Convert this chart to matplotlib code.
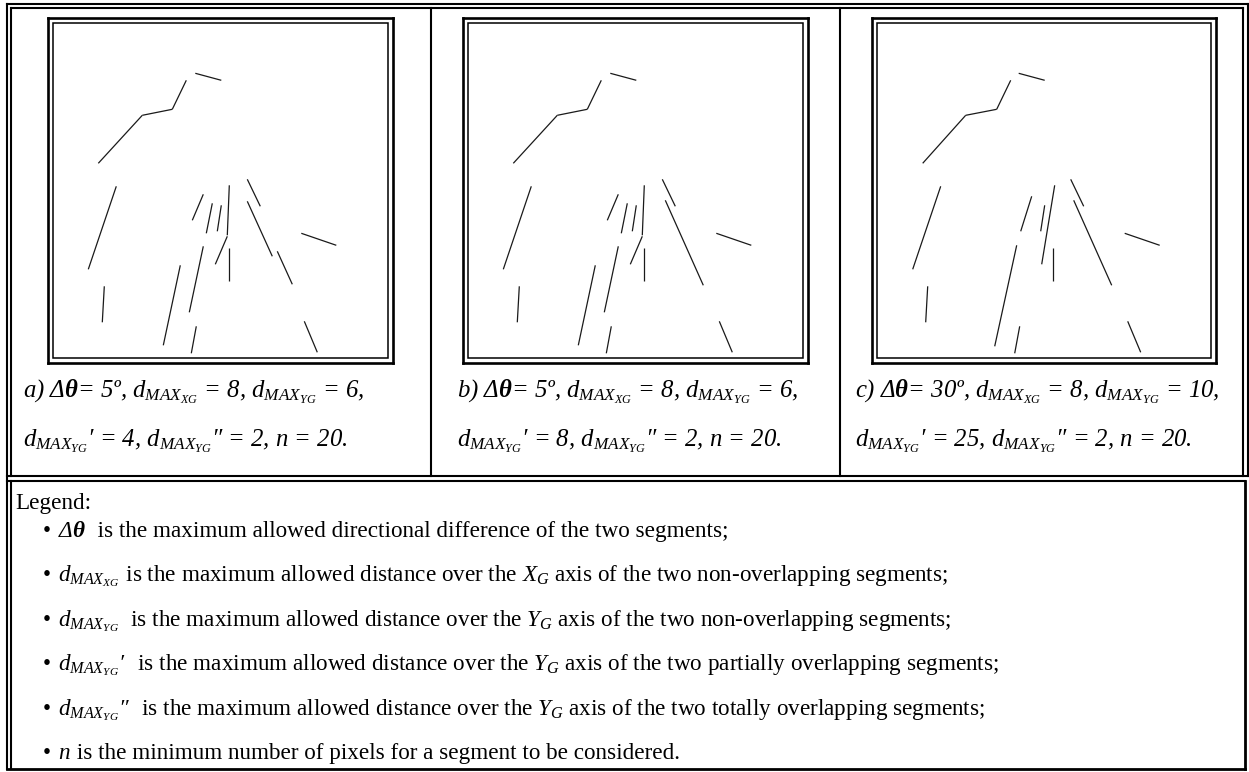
import numpy as np
import matplotlib.pyplot as plt
from matplotlib.patches import Rectangle

plt.rcParams['font.family'] = ['Liberation Serif', 'DejaVu Serif']
plt.rcParams['mathtext.fontset'] = 'custom'
plt.rcParams['mathtext.rm'] = 'Liberation Serif'
plt.rcParams['mathtext.it'] = 'Liberation Serif:italic'
plt.rcParams['mathtext.bf'] = 'Liberation Serif:italic:bold'

W, H = 1249, 772  # canvas in pixels
IMG = 344.7       # size of each segment image (pixels)

# Detected segments per panel: (x0, y0, x1, y1) in image pixels, y pointing down
segments_a = [
    (147, 55, 173, 62), (138, 62, 124, 91), (124, 91, 94, 97), (94, 97, 50, 145),
    (68, 168, 40, 251), (56, 268, 54, 304), (132, 247, 115, 327), (148, 308, 143, 335),
    (155, 228, 141, 294), (155, 176, 144, 202), (164, 185, 158, 215), (173, 187, 169, 213),
    (181, 167, 179, 217), (179, 218, 167, 246), (181, 230, 181, 263), (199, 161, 212, 188),
    (199, 183, 224, 238), (229, 233, 244, 266), (253, 215, 288, 227), (256, 303, 269, 334),
]
segments_b = [
    (147, 55, 173, 62), (138, 62, 124, 91), (124, 91, 94, 97), (94, 97, 50, 145),
    (68, 168, 40, 251), (56, 268, 54, 304), (132, 247, 115, 327), (148, 308, 143, 335),
    (155, 228, 141, 294), (155, 176, 144, 202), (164, 185, 158, 215), (173, 187, 169, 213),
    (181, 167, 179, 217), (179, 218, 167, 246), (181, 230, 181, 263), (199, 161, 212, 188),
    (202, 182, 240, 267), (253, 215, 288, 227), (256, 303, 269, 334),
]
segments_c = [
    (147, 55, 173, 62), (139, 62, 125, 91), (125, 91, 94, 97), (94, 97, 51, 145),
    (69, 168, 41, 251), (56, 268, 54, 304), (145, 227, 123, 328), (148, 308, 143, 335),
    (160, 178, 149, 213), (173, 187, 169, 213), (183, 167, 170, 246), (181, 230, 181, 263),
    (199, 161, 212, 188), (202, 182, 240, 267), (253, 215, 288, 227), (256, 303, 269, 334),
]
panel_segments = [segments_a, segments_b, segments_c]

captions = [
    [r"a) Δ$\mathbf{θ}$= 5º, $d_{MAX_{XG}}$ = 8, $d_{MAX_{YG}}$ = 6,",
     r"$d_{MAX_{YG}}$′ = 4, $d_{MAX_{YG}}$″ = 2, n = 20."],
    [r"b) Δ$\mathbf{θ}$= 5º, $d_{MAX_{XG}}$ = 8, $d_{MAX_{YG}}$ = 6,",
     r"$d_{MAX_{YG}}$′ = 8, $d_{MAX_{YG}}$″ = 2, n = 20."],
    [r"c) Δ$\mathbf{θ}$= 30º, $d_{MAX_{XG}}$ = 8, $d_{MAX_{YG}}$ = 10,",
     r"$d_{MAX_{YG}}$′ = 25, $d_{MAX_{YG}}$″ = 2, n = 20."],
]

# (italic symbol part, upright description)
legend_items = [
    (r"Δ$\mathbf{θ}$", "  is the maximum allowed directional difference of the two segments;"),
    (r"$d_{MAX_{XG}}$", " is the maximum allowed distance over the $X_G$ axis of the two non-overlapping segments;"),
    (r"$d_{MAX_{YG}}$", "  is the maximum allowed distance over the $Y_G$ axis of the two non-overlapping segments;"),
    (r"$d_{MAX_{YG}}$′", "  is the maximum allowed distance over the $Y_G$ axis of the two partially overlapping segments;"),
    (r"$d_{MAX_{YG}}$″", "  is the maximum allowed distance over the $Y_G$ axis of the two totally overlapping segments;"),
    (r"$n$", " is the minimum number of pixels for a segment to be considered."),
]

fig = plt.figure(figsize=(W / 100, H / 100), dpi=100)
bg = fig.add_axes([0, 0, 1, 1])
bg.set_xlim(0, W)
bg.set_ylim(H, 0)
bg.axis('off')

lw = 1.5
# table borders
bg.plot([6.8, 6.8], [3.8, 768.5], color='k', lw=lw)
bg.plot([10.8, 10.8], [7.5, 476], color='k', lw=lw)
bg.plot([10.8, 10.8], [481, 768.5], color='k', lw=lw)
bg.plot([6.8, 1248], [3.8, 3.8], color='k', lw=lw)
bg.plot([10.8, 1243.5], [7.5, 7.5], color='k', lw=lw)
bg.plot([1248, 1248], [3.8, 476], color='k', lw=lw)
bg.plot([1243.5, 1243.5], [7.5, 476], color='k', lw=lw)
bg.plot([6.8, 1248], [476, 476], color='k', lw=lw)
bg.plot([6.8, 1245], [481, 481], color='k', lw=lw)
bg.plot([1245, 1245], [481, 768.5], color='k', lw=2)
bg.plot([6.8, 1245], [768.5, 768.5], color='k', lw=2)
bg.plot([431.5, 431.5], [7.5, 476], color='k', lw=lw)
bg.plot([840, 840], [7.5, 476], color='k', lw=lw)

panel_left = [48.3, 463.3, 871.7]
caption_x = [22.7, 456.7, 855]
for i in range(3):
    ax = fig.add_axes([panel_left[i] / W, 1 - (18.3 + IMG) / H, IMG / W, IMG / H])
    ax.set_xlim(0, IMG)
    ax.set_ylim(IMG, 0)
    ax.set_xticks([])
    ax.set_yticks([])
    for sp in ax.spines.values():
        sp.set_linewidth(1.9)
    ax.add_patch(Rectangle((5, 5), IMG - 10, IMG - 10, fill=False, lw=1.1, ec='k'))
    for x0, y0, x1, y1 in panel_segments[i]:
        ax.plot([x0, x1], [y0, y1], color='#1a1a1a', lw=0.9, solid_capstyle='butt')
    bg.text(caption_x[i], 398, captions[i][0], fontsize=17.8, style='italic',
            va='baseline', ha='left')
    bg.text(caption_x[i], 447, captions[i][1], fontsize=17.8, style='italic',
            va='baseline', ha='left')

bg.text(15, 509, "Legend:", fontsize=16.7, va='baseline', ha='left')
row_y = [537, 581, 626, 670, 715, 759]
for y, (sym, desc) in zip(row_y, legend_items):
    bg.text(47, y, "•", fontsize=16.7, va='baseline', ha='center')
    t = bg.text(58, y, sym, fontsize=16.7, style='italic', va='baseline', ha='left')
    fig.canvas.draw()
    bb = t.get_window_extent()
    x_end = bg.transData.inverted().transform((bb.x1, 0))[0]
    bg.text(x_end, y, desc, fontsize=16.7, va='baseline', ha='left')

fig.savefig('out.png', dpi=100)
